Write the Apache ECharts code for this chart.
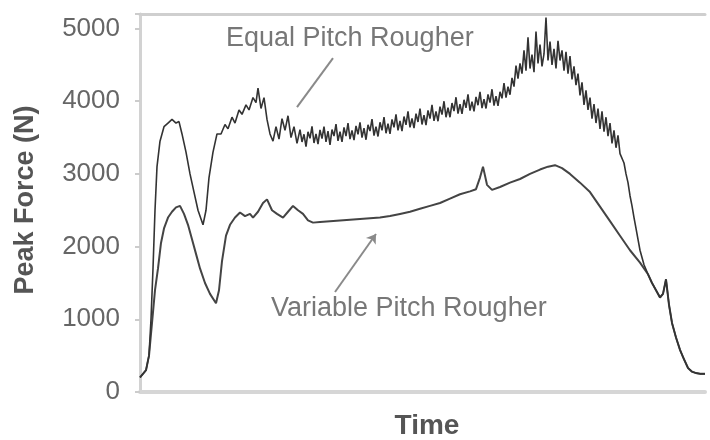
<!DOCTYPE html>
<html>
<head>
<meta charset="utf-8">
<script src="https://cdn.jsdelivr.net/npm/echarts@6/dist/echarts.min.js"></script>
<style>
html,body{margin:0;padding:0;background:#fff;}
#chart{width:710px;height:440px;}
</style>
</head>
<body>
<div id="chart"></div>
<script>
// Time (arbitrary units) and Peak Force (N) values
const yTicks = [0, 1000, 2000, 3000, 4000, 5000];

const equalTime = [0,3,6,9,11,13,15,17,20,24,28,32,36,39,42,46,50,54,58,63,66,69,73,77,81,85,88,92,95,99,102,106,109,113,116,118,121,124,127,130,133,136,139,142,145,148,151,154,157,
  160,162,164,166,168,170,172,174,176,178,180,182,184,186,188,190,192,194,196,198,
  200,202,204,206,208,210,212,214,216,218,220,222,224,226,228,230,232,234,236,238,
  240,242,244,246,248,250,252,254,256,258,260,262,264,266,268,270,272,274,276,278,
  280,282,284,286,288,290,292,294,296,298,300,302,304,306,308,310,312,314,316,318,
  320,322,324,326,328,330,332,334,336,338,340,342,344,346,348,350,352,354,356,358,
  360,362,364,366,368,370,372,374,376,378,380,382,384,386,388,390,392,394,396,398,
  400,402,404,406,408,410,412,414,416,418,420,422,424,426,428,430,432,434,436,438,
  440,442,444,446,448,450,452,454,456,458,460,462,464,466,468,470,472,474,476,478,
  480,482,484,486,488,490,492,494,496,498,500,504,508,512,516,520,523,526,529,532,536,540,544,548,552,556,560,565];
const equalForce = [200,250,300,500,1000,1700,2500,3100,3450,3650,3700,3750,3700,3720,3550,3300,3000,2750,2500,2300,2500,2950,3300,3550,3550,3680,3620,3780,3700,3880,3820,3950,3880,4050,3980,4180,3900,4050,3750,3550,3450,3650,3480,3760,3600,3800,3500,3650,3420,
  3610,3440,3545,3375,3580,3490,3655,3425,3550,3410,3605,3485,3650,3440,3590,3400,3610,3520,3685,3455,
  3580,3440,3640,3520,3700,3480,3600,3465,3660,3545,3710,3500,3630,3470,3676,3590,3754,3528,3650,3515,
  3710,3600,3780,3560,3690,3550,3750,3640,3820,3600,3730,3590,3790,3675,3860,3640,3765,3630,3830,3715,
  3900,3680,3810,3670,3875,3760,3950,3730,3860,3725,3925,3815,4000,3780,3910,3780,3975,3865,4055,3830,
  3960,3825,4020,3910,4095,3870,3995,3860,4060,3945,4130,3905,4030,3900,4095,3980,4165,3940,4070,3935,
  4130,4040,4250,4050,4200,4090,4320,4200,4490,4310,4520,4380,4700,4420,4880,4450,4640,4400,4960,4520,
  4780,4480,4650,5150,4560,4820,4500,4720,4450,4830,4560,4700,4420,4680,4380,4620,4300,4480,4220,4380,
  4080,4260,3950,4150,3880,4050,3760,3960,3700,3900,3620,3860,3580,3780,3520,3700,3420,3600,3360,3530,
  3280,3300,3150,3000,2880,2700,2560,2400,2250,2100,1950,1750,1620,1500,1400,1300,1350,1550,1200,950,750,580,450,330,280,260,250,250];

const variableTime = [0,3,6,9,11,13,15,18,21,24,28,32,36,40,44,48,52,56,60,65,70,76,79,82,86,90,95,100,105,110,113,118,123,127,132,137,143,148,153,158,163,168,173,180,190,200,210,220,230,240,250,260,270,280,290,300,310,320,330,336,340,343,347,352,360,370,380,390,400,408,415,422,430,440,450,460,470,480,490,500,508,512,516,520,523,526,529,532,536,540,544,548,552,556,560,565];
const variableForce = [200,250,300,500,800,1100,1400,1700,2050,2250,2400,2480,2540,2560,2450,2300,2100,1900,1700,1500,1350,1220,1400,1800,2150,2300,2400,2470,2420,2450,2400,2480,2600,2650,2500,2450,2400,2480,2560,2500,2450,2360,2330,2340,2350,2360,2370,2380,2390,2400,2420,2450,2480,2520,2560,2600,2660,2720,2760,2790,2950,3100,2850,2780,2820,2880,2930,3000,3060,3100,3120,3080,3000,2880,2750,2550,2350,2150,1950,1780,1620,1500,1400,1300,1350,1550,1200,950,750,580,450,330,280,260,250,250];

const zip = (a, b) => a.map((t, i) => [t, b[i]]);
const FONT = '"Liberation Sans", Arial, sans-serif';

const chart = echarts.init(document.getElementById('chart'), null, {renderer: 'canvas'});
chart.setOption({
  animation: false,
  backgroundColor: '#fff',
  grid: {left: 140, right: 5, top: 14, bottom: 48},
  xAxis: [{
    type: 'value', min: 0, max: 565,
    axisLine: {show: true, lineStyle: {color: '#d6d6d6', width: 4}},
    axisTick: {show: false}, axisLabel: {show: false}, splitLine: {show: false}
  }, {
    type: 'value', min: 0, max: 565, position: 'top',
    axisLine: {show: true, lineStyle: {color: '#cfcfcf', width: 3}},
    axisTick: {show: false}, axisLabel: {show: false}, splitLine: {show: false}
  }],
  yAxis: {
    type: 'value', min: 0, max: 5200, interval: 1000,
    axisLine: {show: true, lineStyle: {color: '#d2d2d2', width: 3}},
    axisTick: {show: true, length: 5, lineStyle: {color: '#cccccc', width: 2}},
    axisLabel: {
      margin: 20, fontSize: 26, fontFamily: FONT, color: '#666',
      formatter: v => (yTicks.indexOf(v) >= 0 ? String(v) : '')
    },
    splitLine: {show: false}
  },
  series: [{
    name: 'Equal Pitch Rougher', type: 'line', xAxisIndex: 0,
    data: zip(equalTime, equalForce), showSymbol: false, symbol: 'none',
    lineStyle: {color: '#333', width: 1.6},
    z: 3,
    markLine: {
      silent: true, symbol: ['none', 'none'], animation: false,
      lineStyle: {color: '#8a8a8a', width: 2, type: 'solid'},
      label: {show: false},
      data: [[{coord: [193, 4594]}, {coord: [157, 3920]}]]
    }
  }, {
    name: 'Variable Pitch Rougher', type: 'line', xAxisIndex: 0,
    data: zip(variableTime, variableForce), showSymbol: false, symbol: 'none',
    lineStyle: {color: '#444', width: 2},
    z: 2,
    markLine: {
      silent: true, symbol: ['arrow', 'none'], symbolSize: 9, animation: false,
      lineStyle: {color: '#8a8a8a', width: 2, type: 'solid'},
      label: {show: false},
      data: [[{coord: [236, 2173]}, {coord: [195, 1376]}]]
    }
  }],
  graphic: [
    {type: 'text', x: 226, y: 39, style: {text: 'Equal Pitch Rougher', font: '27px ' + FONT, fill: '#777', align: 'left', verticalAlign: 'middle'}},
    {type: 'text', x: 271, y: 309, style: {text: 'Variable Pitch Rougher', font: '27px ' + FONT, fill: '#777', align: 'left', verticalAlign: 'middle'}},
    {type: 'text', x: 427, y: 426, style: {text: 'Time', font: 'bold 28px ' + FONT, fill: '#555', align: 'center', verticalAlign: 'middle'}},
    {type: 'text', x: 26, y: 200, rotation: Math.PI / 2, style: {text: 'Peak Force (N)', font: 'bold 27px ' + FONT, fill: '#555', align: 'center', verticalAlign: 'middle'}}
  ]
});
</script>
</body>
</html>
